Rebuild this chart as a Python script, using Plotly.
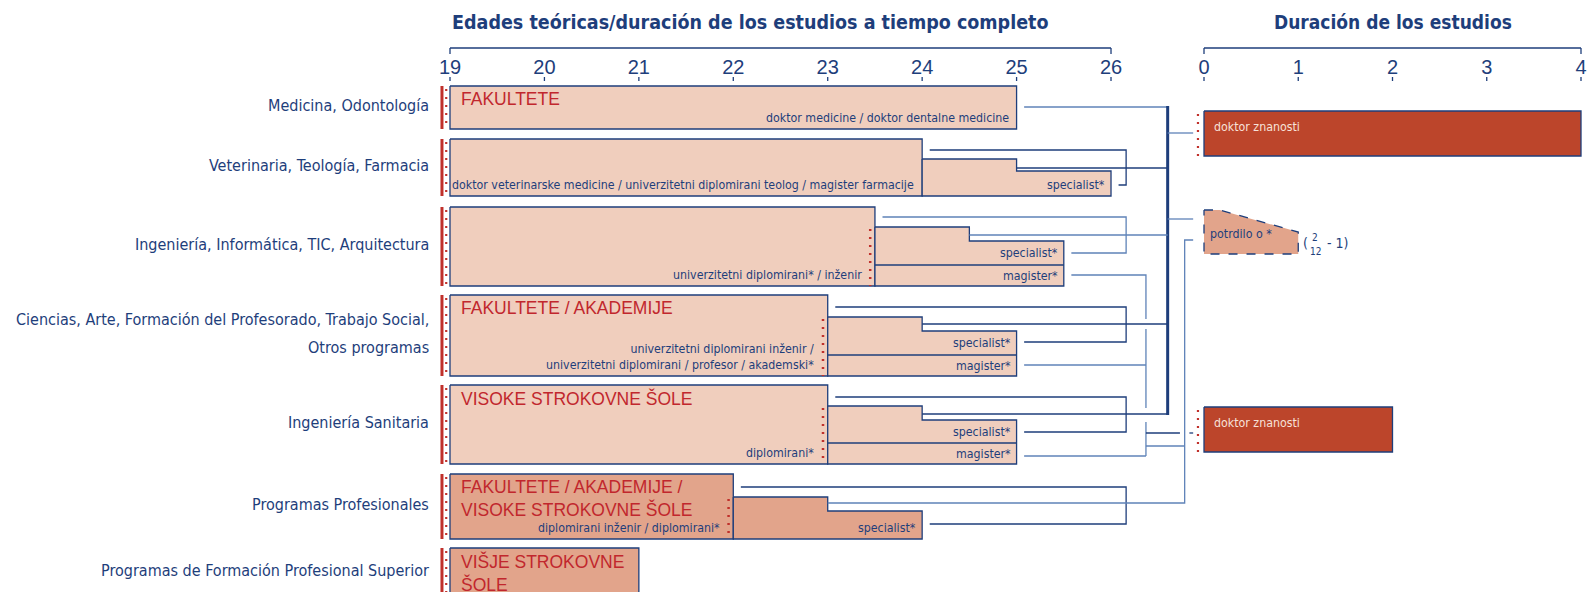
import plotly.graph_objects as go

W, H = 1589, 592

# ---- data ----
categories = [
    "Medicina, Odontología",
    "Veterinaria, Teología, Farmacia",
    "Ingeniería, Informática, TIC, Arquitectura",
    "Ciencias, Arte, Formación del Profesorado, Trabajo Social,<br>Otros programas",
    "Ingeniería Sanitaria",
    "Programas Profesionales",
    "Programas de Formación Profesional Superior",
]
start_age = [19, 19, 19, 19, 19, 19, 19]
main_end = [25, 24, 23.5, 23, 23, 22, 21]
step1_end = [None, 25, 24.5, 24, 24, 23, None]
step2_end = [None, 26, 25.5, 25, 25, 24, None]
institutions = [
    "FAKULTETE", "", "", "FAKULTETE / AKADEMIJE", "VISOKE STROKOVNE ŠOLE",
    "FAKULTETE / AKADEMIJE /<br>VISOKE STROKOVNE ŠOLE", "VIŠJE STROKOVNE<br>ŠOLE",
]
degrees = [
    "doktor medicine / doktor dentalne medicine",
    "doktor veterinarske medicine / univerzitetni diplomirani teolog / magister farmacije",
    "univerzitetni diplomirani* / inženir",
    "univerzitetni diplomirani inženir /<br>univerzitetni diplomirani / profesor / akademski*",
    "diplomirani*",
    "diplomirani inženir / diplomirani*",
    "diploma višje šole",
]
step_labels = [[], ["specialist*"], ["specialist*", "magister*"], ["specialist*", "magister*"],
               ["specialist*", "magister*"], ["specialist*"], []]
dark_row = [False, False, False, False, False, True, True]
inner_dots = [False, False, True, True, True, True, False]

doctoral_labels = ["doktor znanosti", "doktor znanosti"]
doctoral_years = [4, 2]
cert_label = "potrdilo o *"
cert_min, cert_max = 2 / 12, 1
age_ticks = [19, 20, 21, 22, 23, 24, 25, 26]
dur_ticks = [0, 1, 2, 3, 4]

# ---- layout constants (pixel rows) ----
ROW_TOP = [86, 139, 207, 295, 385, 474, 548]
ROW_BOT = [129, 196, 286, 376, 464, 539, 597]
S1_TOP = [None, 159, 227, 317, 406, 497, None]
S2_TOP = [None, 171, 241, 331, 420, 511, None]
DIVIDER = [None, None, 265, 355, 443, None, None]
DOC_TOP = [111, 407]
DOC_BOT = [156, 452]

NAVY = "#1E3E7B"
STEEL = "#5F83B8"
PEACH = "#F0CEBD"
PEACH_DARK = "#E2A48B"
RUST = "#BC452B"
RED = "#C1272D"
DOTRED = "#C0302B"

NARROW = "Liberation Sans Narrow, Arial Narrow, DejaVu Sans Condensed, sans-serif"
SANS = "Liberation Sans, Arial, sans-serif"
SMALL = 12.3

PPY = 94.43     # px per year, age axis
PPY2 = 94.25    # px per year, duration axis

fig = go.Figure()


def poly(xs, ys, fill, xaxis="x", dash="solid"):
    fig.add_trace(go.Scatter(
        x=xs, y=ys, xaxis=xaxis, yaxis="y", mode="lines", fill="toself",
        fillcolor=fill, line=dict(color=NAVY, width=1.3, dash=dash),
        hoverinfo="skip", showlegend=False))


def text(x, y, s, size, color=NAVY, family=NARROW, xanchor="left", yanchor="middle", xref="x"):
    fig.add_annotation(x=x, y=y, xref=xref, yref="y", text=s, showarrow=False,
                       xanchor=xanchor, yanchor=yanchor, align=xanchor,
                       font=dict(size=size, color=color, family=family))


shapes = []


def line(x0, y0, x1, y1, color=NAVY, width=1.3, dash="solid", xref="x"):
    shapes.append(dict(type="line", xref=xref, yref="y", x0=x0, y0=y0, x1=x1, y1=y1,
                       line=dict(color=color, width=width, dash=dash)))


def path(pts, color=NAVY, width=1.3, dash="solid"):
    d = "M " + " L ".join(f"{x},{y}" for x, y in pts)
    shapes.append(dict(type="path", xref="x", yref="y", path=d,
                       line=dict(color=color, width=width, dash=dash)))


DOTS = "2px,6px"

# ---- programme rows ----
for i, cat in enumerate(categories):
    top, bot = ROW_TOP[i], ROW_BOT[i]
    x0, x1 = start_age[i], main_end[i]
    fill = PEACH_DARK if dark_row[i] else PEACH
    poly([x0, x1, x1, x0, x0], [top, top, bot, bot, top], fill)
    if step1_end[i] is not None:
        s1, s2 = step1_end[i], step2_end[i]
        poly([x1, s1, s1, s2, s2, x1, x1],
             [S1_TOP[i], S1_TOP[i], S2_TOP[i], S2_TOP[i], bot, bot, S1_TOP[i]], fill)
        if DIVIDER[i] is not None:
            line(x1, DIVIDER[i], s2, DIVIDER[i])
        labs = step_labels[i]
        if len(labs) == 2:
            text(s2 - 0.04, (S2_TOP[i] + DIVIDER[i]) / 2, labs[0], SMALL, xanchor="right")
            text(s2 - 0.04, (DIVIDER[i] + bot) / 2, labs[1], SMALL, xanchor="right")
        elif len(labs) == 1:
            text(s2 - 0.04, bot - 2, labs[0], SMALL, xanchor="right", yanchor="bottom")
    if inner_dots[i]:
        line(x1 - 0.05, S1_TOP[i] + 2, x1 - 0.05, bot, color=DOTRED, width=2.5, dash=DOTS)

    # red bracket on the left
    line(x0 - 0.085, top, x0 - 0.085, bot, color=DOTRED, width=3)
    line(x0 - 0.04, top + 3, x0 - 0.04, bot, color=DOTRED, width=2.2, dash=DOTS)

    # labels
    parts = cat.split("<br>")
    yc = (top + bot) / 2 - 2 - (len(parts) - 1) * 14
    for k, p in enumerate(parts):
        text(x0 - 0.2, yc + 28 * k, p, 16, xanchor="right")

    if institutions[i]:
        text(x0 + 0.09, top + 1, institutions[i], 17.5, color=RED, family=SANS, yanchor="top")
    gap = 0.12 if inner_dots[i] else 0.06
    text(x1 - gap, bot - 2, degrees[i], SMALL, xanchor="right", yanchor="bottom")

# ---- duration side ----
for k in range(len(doctoral_years)):
    t, b = DOC_TOP[k], DOC_BOT[k]
    poly([0, doctoral_years[k], doctoral_years[k], 0, 0], [t, t, b, b, t], RUST, xaxis="x2")
    text(0.09, t + 16, doctoral_labels[k], SMALL, color="#F7E1D9", xref="x2")
    line(-0.064, t + 3, -0.064, b, color=DOTRED, width=2.2, dash=DOTS, xref="x2")

poly([0, cert_min, cert_max, cert_max, 0, 0], [210, 210, 232, 254, 254, 210], PEACH_DARK,
     xaxis="x2", dash="dash")
text(0.04, 234, cert_label, SMALL, xref="x2")
text(1.03, 243, "(", 14, xref="x2")
text(1.18, 237, "2", 10, xanchor="center", xref="x2")
text(1.18, 251, "12", 10, xanchor="center", xref="x2")
text(1.28, 243, "- 1)", 14, xref="x2")

# ---- connectors ----
C_SPEC, C_MAG, C_DOC, C_CERT, C_END = 26.16, 26.37, 26.60, 26.78, 26.87

path([(25.08, 107), (C_DOC, 107)], STEEL)
line(C_DOC, 106, C_DOC, 415, NAVY, 3)
path([(C_DOC, 133), (C_END, 133)], STEEL)
path([(C_DOC, 219), (C_END, 219)], STEEL)

path([(24.08, 150), (C_SPEC, 150), (C_SPEC, 185), (26.08, 185)])
path([(25, 168), (C_DOC, 168)])

path([(23.58, 217), (C_SPEC, 217), (C_SPEC, 253), (25.58, 253)], STEEL)
path([(24.5, 235), (C_DOC, 235)], STEEL)
path([(25.58, 275), (C_MAG, 275), (C_MAG, 319)], STEEL)
path([(C_MAG, 329), (C_MAG, 408)], STEEL)
path([(C_MAG, 422), (C_MAG, 456)], STEEL)

path([(23.08, 307), (C_SPEC, 307), (C_SPEC, 342), (25.08, 342)])
path([(24, 324), (C_DOC, 324)])
path([(25.08, 365), (C_MAG, 365)], STEEL)

path([(23.08, 397), (C_SPEC, 397), (C_SPEC, 432), (25.08, 432)])
path([(24, 414), (C_DOC, 414)])
path([(25.08, 456), (C_MAG, 456)], STEEL)
path([(C_MAG, 433), (26.73, 433)])
path([(26.83, 433), (C_END, 433)])
path([(C_MAG, 446), (C_CERT, 446)], STEEL)

path([(22.08, 487), (C_SPEC, 487), (C_SPEC, 524), (24.08, 524)])
path([(23, 503), (C_CERT, 503), (C_CERT, 240), (C_END, 240)], STEEL)

# ---- axis brackets ----
for ref, ticks in (("x", age_ticks), ("x2", dur_ticks)):
    line(ticks[0], 48, ticks[-1], 48, NAVY, 1.3, xref=ref)
    line(ticks[0], 48, ticks[0], 54, NAVY, 1.3, xref=ref)
    line(ticks[-1], 48, ticks[-1], 54, NAVY, 1.3, xref=ref)
    for t in ticks:
        line(t, 77, t, 81, NAVY, 1.3, xref=ref)

text(22.18, 22, "<b>Edades teóricas/duración de los estudios a tiempo completo</b>", 19.5,
     xanchor="center")
text(2, 22, "<b>Duración de los estudios</b>", 19, xanchor="center", xref="x2")

axis_common = dict(showgrid=False, zeroline=False, showline=False, ticks="",
                   anchor="free", position=1 - 53 / H, side="bottom",
                   ticklabeloverflow="allow",
                   tickfont=dict(size=20, color=NAVY, family=SANS), domain=[0, 1])
fig.update_layout(
    width=W, height=H,
    margin=dict(l=0, r=0, t=0, b=0),
    plot_bgcolor="white", paper_bgcolor="white",
    showlegend=False,
    shapes=shapes,
    xaxis=dict(range=[19 - 450 / PPY, 19 + (W - 450) / PPY], tickvals=age_ticks,
               ticktext=[str(t) for t in age_ticks], **axis_common),
    xaxis2=dict(range=[-1204 / PPY2, (W - 1204) / PPY2], tickvals=dur_ticks,
                ticktext=[str(t) for t in dur_ticks], overlaying="x", **axis_common),
    yaxis=dict(range=[H, 0], domain=[0, 1], visible=False, fixedrange=True),
)

fig.write_html("out.html", config={"displayModeBar": False},
               post_script="document.body.style.margin='0';")
